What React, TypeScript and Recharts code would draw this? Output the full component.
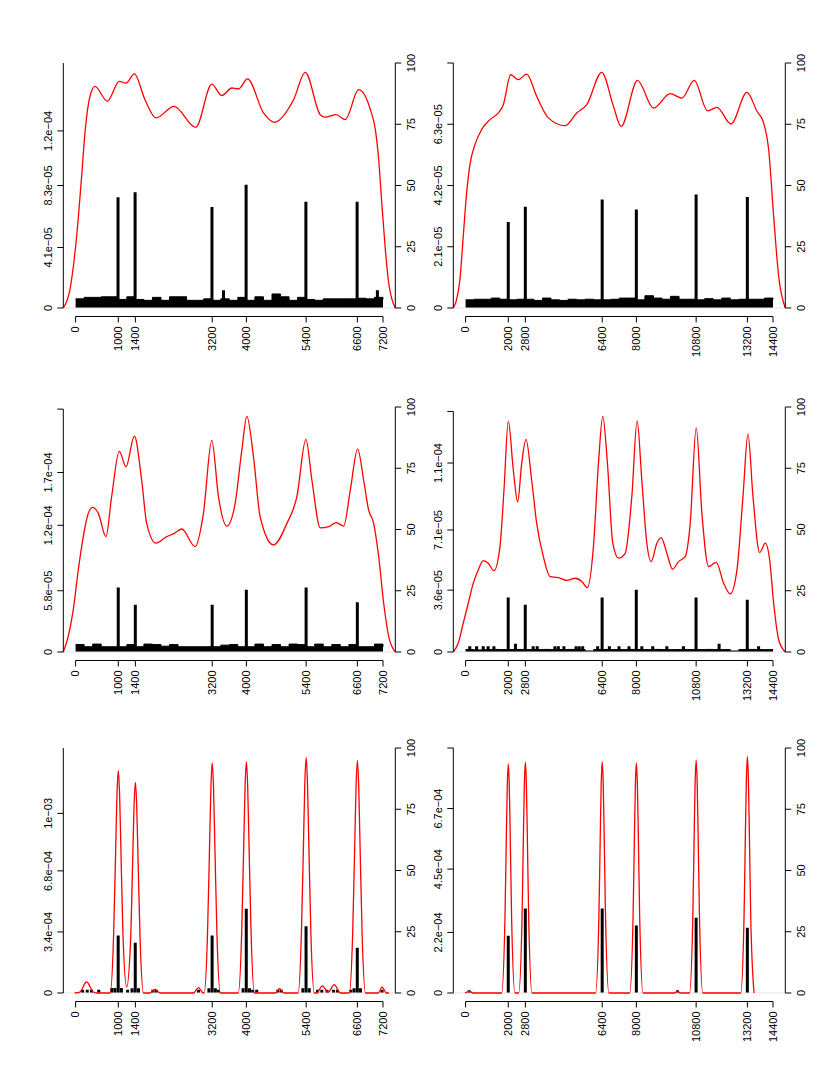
import React from 'react';
import { ComposedChart, Line, Area, Bar, XAxis, YAxis, ReferenceLine } from 'recharts';

// x tick positions of the two columns
const leftColTicks = [0, 1000, 1400, 3200, 4000, 5400, 6600, 7200];
const rightColTicks = [0, 2000, 2800, 6400, 8000, 10800, 13200, 14400];
const pctTicks = [0, 25, 50, 75, 100];

// positions of the noise floor samples
const leftNoiseX = [0, 200, 400, 600, 800, 1000, 1200, 1400, 1600, 1800, 2000, 2200, 2400, 2600, 2800, 3000, 3200, 3400, 3600, 3800, 4000, 4200, 4400, 4600, 4800, 5000, 5200, 5400, 5600, 5800, 6000, 6200, 6400, 6600, 6800, 7000, 7200];
const rightNoiseX = [0, 400, 800, 1200, 1600, 2000, 2400, 2800, 3200, 3600, 4000, 4400, 4800, 5200, 5600, 6000, 6400, 6800, 7200, 7600, 8000, 8400, 8800, 9200, 9600, 10000, 10400, 10800, 11200, 11600, 12000, 12400, 12800, 13200, 13600, 14000, 14400];

// ---- top left
const tlLeftTicks = [0, 4.1e-5, 8.3e-5, 1.2e-4];
const tlLeftLabels = ['0', '4.1e−05', '8.3e−05', '1.2e−04'];
const tlSpikes = [
  { x: 1000, h: 7.5e-5 }, { x: 1400, h: 7.85e-5 }, { x: 3200, h: 6.85e-5 }, { x: 3470, h: 1.2e-5 },
  { x: 4000, h: 8.35e-5 }, { x: 5400, h: 7.2e-5 }, { x: 6600, h: 7.2e-5 }, { x: 7075, h: 1.2e-5 },
];
const tlNoiseMicro = [6.2, 7.2, 7.2, 7.6, 7.6, 5.8, 7.6, 5.8, 5.2, 7.2, 5.2, 7.6, 7.6, 5.2, 5.2, 6.2, 5.2, 6.2, 5.2, 7.2, 5.2, 7.6, 5.2, 9.5, 7.6, 5.2, 7.2, 5.8, 5.2, 6.2, 6.2, 6.2, 6.2, 6.6, 6.2, 7.2, 5.8];
const tlCurve = [
  { x: -288, v: 0 }, { x: -133, v: 7.5 }, { x: 23, v: 29 }, { x: 141, v: 53.7 }, { x: 219, v: 71.4 },
  { x: 336, v: 86.4 }, { x: 453, v: 90.5 }, { x: 743, v: 84.4 }, { x: 1024, v: 92.5 }, { x: 1181, v: 91.8 },
  { x: 1376, v: 95.6 }, { x: 1626, v: 85 }, { x: 1884, v: 77.6 }, { x: 2306, v: 82.3 }, { x: 2814, v: 73.7 },
  { x: 3190, v: 91.4 }, { x: 3424, v: 86.7 }, { x: 3659, v: 89.8 }, { x: 3815, v: 89.4 }, { x: 4026, v: 93.5 },
  { x: 4402, v: 79.6 }, { x: 4652, v: 75.8 }, { x: 5105, v: 85 }, { x: 5379, v: 96.2 }, { x: 5731, v: 78.9 },
  { x: 5848, v: 77.9 }, { x: 6106, v: 78.9 }, { x: 6317, v: 76.9 }, { x: 6630, v: 89.1 }, { x: 6903, v: 81 },
  { x: 7021, v: 72.8 }, { x: 7099, v: 60.5 }, { x: 7177, v: 41.5 }, { x: 7255, v: 23.8 }, { x: 7333, v: 10.2 },
  { x: 7411, v: 3.4 }, { x: 7488, v: 0 },
];

// ---- top right
const trLeftTicks = [0, 2.1e-5, 4.2e-5, 6.3e-5, 8.4e-5];
const trLeftLabels = ['0', '2.1e−05', '4.2e−05', '6.3e−05', ''];
const trSpikes = [
  { x: 2000, h: 2.95e-5 }, { x: 2800, h: 3.47e-5 }, { x: 6400, h: 3.72e-5 },
  { x: 8000, h: 3.38e-5 }, { x: 10800, h: 3.89e-5 }, { x: 13200, h: 3.81e-5 },
];
const trNoiseMicro = [2.8, 3.0, 3.0, 3.4, 3.0, 2.8, 3.0, 3.0, 2.6, 3.4, 2.8, 2.6, 3.0, 2.8, 3.0, 2.8, 2.8, 3.0, 3.4, 3.4, 2.8, 4.2, 3.4, 3.0, 4.0, 3.0, 3.0, 2.8, 3.2, 2.8, 3.4, 2.8, 3.0, 3.0, 3.0, 3.4, 3.0];
const trCurve = [
  { x: -576, v: 0 }, { x: -422, v: 3.4 }, { x: -266, v: 11.6 }, { x: -109, v: 29.3 }, { x: 47, v: 46.9 },
  { x: 203, v: 58.5 }, { x: 438, v: 66.7 }, { x: 750, v: 72.8 }, { x: 1141, v: 76.9 }, { x: 1532, v: 79.6 },
  { x: 1767, v: 83 }, { x: 2111, v: 95.2 }, { x: 2470, v: 93.2 }, { x: 2861, v: 95.5 }, { x: 3330, v: 86.4 },
  { x: 3877, v: 77.6 }, { x: 4659, v: 74.4 }, { x: 5206, v: 79.6 }, { x: 5675, v: 83 }, { x: 6379, v: 96.2 },
  { x: 6926, v: 82.3 }, { x: 7286, v: 74.1 }, { x: 8052, v: 92.9 }, { x: 8802, v: 81.6 }, { x: 9584, v: 87.5 },
  { x: 10131, v: 85.7 }, { x: 10710, v: 92.9 }, { x: 11335, v: 80.5 }, { x: 11773, v: 81.9 }, { x: 12430, v: 75.1 },
  { x: 13180, v: 88 }, { x: 13649, v: 80.3 }, { x: 13962, v: 75.5 }, { x: 14197, v: 64.6 }, { x: 14431, v: 37.4 },
  { x: 14666, v: 12.9 }, { x: 14976, v: 0 },
];

// ---- middle left
const mlLeftTicks = [0, 5.8e-5, 1.2e-4, 1.7e-4, 2.3e-4];
const mlLeftLabels = ['0', '5.8e−05', '1.2e−04', '1.7e−04', ''];
const mlSpikes = [
  { x: 1000, h: 6.1e-5 }, { x: 1400, h: 4.47e-5 }, { x: 3200, h: 4.47e-5 },
  { x: 4000, h: 5.89e-5 }, { x: 5400, h: 6.1e-5 }, { x: 6600, h: 4.72e-5 },
];
const mlNoiseMicro = [7.0, 5.0, 7.5, 5.0, 5.0, 5.0, 7.0, 5.0, 7.5, 7.0, 5.5, 7.0, 5.0, 5.0, 5.0, 5.0, 5.0, 6.5, 7.0, 5.0, 5.0, 7.5, 5.0, 7.0, 5.0, 7.5, 7.0, 5.0, 7.5, 5.0, 7.0, 5.0, 7.0, 5.0, 5.0, 7.5, 5.0];
const mlCurve = [
  { x: -288, v: 0 }, { x: -172, v: 6.4 }, { x: -55, v: 17.2 }, { x: 63, v: 33.5 }, { x: 180, v: 47.1 },
  { x: 297, v: 56.6 }, { x: 399, v: 59 }, { x: 532, v: 56.6 }, { x: 711, v: 47.1 }, { x: 844, v: 63.4 },
  { x: 1024, v: 81.9 }, { x: 1181, v: 75.6 }, { x: 1376, v: 88.1 }, { x: 1548, v: 70.1 }, { x: 1665, v: 52.5 },
  { x: 1884, v: 44.4 }, { x: 2134, v: 47.1 }, { x: 2290, v: 48.2 }, { x: 2486, v: 50.2 }, { x: 2799, v: 43 },
  { x: 2994, v: 56.6 }, { x: 3190, v: 86.4 }, { x: 3346, v: 63.4 }, { x: 3542, v: 51.4 }, { x: 3737, v: 60.7 },
  { x: 3893, v: 82.4 }, { x: 4011, v: 96.2 }, { x: 4167, v: 79.6 }, { x: 4323, v: 55.2 }, { x: 4636, v: 43.7 },
  { x: 4949, v: 52.5 }, { x: 5183, v: 63.4 }, { x: 5394, v: 86.8 }, { x: 5535, v: 70.1 }, { x: 5731, v: 50.7 },
  { x: 5926, v: 51.2 }, { x: 6106, v: 52.8 }, { x: 6278, v: 51.4 }, { x: 6434, v: 66.1 }, { x: 6606, v: 82.8 },
  { x: 6747, v: 70.1 }, { x: 6864, v: 57.9 }, { x: 6981, v: 52.5 }, { x: 7099, v: 38.9 }, { x: 7216, v: 19.9 },
  { x: 7333, v: 6.4 }, { x: 7488, v: 0 },
];

// ---- middle right
const mrLeftTicks = [0, 3.6e-5, 7.1e-5, 1.1e-4, 1.4e-4];
const mrLeftLabels = ['0', '3.6e−05', '7.1e−05', '1.1e−04', ''];
const mrSpikes = [
  { x: 200, h: 3.3e-6 }, { x: 520, h: 3.3e-6 }, { x: 830, h: 3.3e-6 }, { x: 1060, h: 3.3e-6 }, { x: 1330, h: 3.3e-6 },
  { x: 2000, h: 3.17e-5 }, { x: 2340, h: 4.8e-6 }, { x: 2800, h: 2.75e-5 }, { x: 3170, h: 3.3e-6 }, { x: 3360, h: 3.3e-6 },
  { x: 4190, h: 3.3e-6 }, { x: 4350, h: 3.3e-6 }, { x: 4610, h: 3.3e-6 }, { x: 5180, h: 3.3e-6 }, { x: 5330, h: 3.3e-6 },
  { x: 5490, h: 3.3e-6 }, { x: 6190, h: 3.3e-6 }, { x: 6400, h: 3.17e-5 }, { x: 6740, h: 3.3e-6 }, { x: 7190, h: 3.3e-6 },
  { x: 7660, h: 3.3e-6 }, { x: 8000, h: 3.62e-5 }, { x: 8260, h: 3.3e-6 }, { x: 8770, h: 3.3e-6 }, { x: 9430, h: 3.3e-6 },
  { x: 10210, h: 3.3e-6 }, { x: 10800, h: 3.17e-5 }, { x: 11880, h: 4.8e-6 }, { x: 13200, h: 3.04e-5 }, { x: 13730, h: 3.3e-6 },
];
const mrNoiseMicro = [1.4, 1.2, 1.4, 1.5, 1.4, 1.4, 1.5, 1.4, 1.4, 1.5, 1.4, 1.4, 1.5, 1.4, 0.6, 1.4, 1.5, 1.4, 1.4, 1.5, 1.4, 1.4, 1.5, 1.4, 1.4, 1.5, 1.4, 1.4, 1.5, 1.4, 1.4, 0.6, 1.4, 1.5, 1.4, 1.4, 1.5];
const mrCurve = [
  { x: -576, v: 0 }, { x: -344, v: 3.7 }, { x: -109, v: 11.8 }, { x: 125, v: 19.9 }, { x: 360, v: 28.1 },
  { x: 594, v: 33.5 }, { x: 829, v: 37.3 }, { x: 1063, v: 36.2 }, { x: 1329, v: 33.2 }, { x: 1610, v: 43 },
  { x: 1798, v: 66.1 }, { x: 2001, v: 94.2 }, { x: 2236, v: 74.2 }, { x: 2439, v: 61.3 }, { x: 2627, v: 76.9 },
  { x: 2830, v: 86.8 }, { x: 3096, v: 70.1 }, { x: 3330, v: 52.5 }, { x: 3643, v: 38.9 }, { x: 3956, v: 30.8 },
  { x: 4347, v: 30.4 }, { x: 4737, v: 29.2 }, { x: 5128, v: 30.1 }, { x: 5441, v: 28.8 }, { x: 5707, v: 26.3 },
  { x: 5988, v: 43 }, { x: 6223, v: 76.9 }, { x: 6426, v: 96.2 }, { x: 6645, v: 76.9 }, { x: 6895, v: 44.4 },
  { x: 7161, v: 38.3 }, { x: 7474, v: 40.3 }, { x: 7786, v: 63.4 }, { x: 8036, v: 94.3 }, { x: 8255, v: 70.1 },
  { x: 8490, v: 44.4 }, { x: 8693, v: 36.9 }, { x: 8959, v: 44.4 }, { x: 9162, v: 46.7 }, { x: 9428, v: 40.3 },
  { x: 9694, v: 33.8 }, { x: 9975, v: 36.9 }, { x: 10288, v: 38.9 }, { x: 10522, v: 52.5 }, { x: 10803, v: 91.5 },
  { x: 11069, v: 56.6 }, { x: 11382, v: 34.9 }, { x: 11742, v: 36.6 }, { x: 12086, v: 28.1 }, { x: 12399, v: 23.7 },
  { x: 12711, v: 33.5 }, { x: 12993, v: 63.4 }, { x: 13227, v: 88.9 }, { x: 13462, v: 63.4 }, { x: 13774, v: 40.6 },
  { x: 14040, v: 44.4 }, { x: 14243, v: 37.6 }, { x: 14431, v: 19.9 }, { x: 14666, v: 5 }, { x: 14976, v: 0 },
];

// ---- bottom left
const blLeftTicks = [0, 3.4e-4, 6.8e-4, 1e-3];
const blLeftLabels = ['0', '3.4e−04', '6.8e−04', '1e−03'];
const blSpikes = [
  { x: 165, h: 1.8e-5 }, { x: 275, h: 1.8e-5 }, { x: 375, h: 1.8e-5 }, { x: 545, h: 1.8e-5 },
  { x: 850, h: 2.8e-5 }, { x: 925, h: 2.8e-5 }, { x: 1000, h: 3.2e-4 }, { x: 1075, h: 2.8e-5 },
  { x: 1220, h: 1.8e-5 }, { x: 1325, h: 2.6e-5 }, { x: 1400, h: 2.8e-4 }, { x: 1475, h: 2.6e-5 },
  { x: 1810, h: 1.8e-5 }, { x: 1890, h: 1.8e-5 }, { x: 2880, h: 1.8e-5 }, { x: 3125, h: 2.6e-5 },
  { x: 3200, h: 3.2e-4 }, { x: 3275, h: 2.6e-5 }, { x: 3350, h: 1.8e-5 }, { x: 3925, h: 2.6e-5 },
  { x: 4000, h: 4.69e-4 }, { x: 4075, h: 2.6e-5 }, { x: 4150, h: 1.8e-5 }, { x: 4245, h: 1.8e-5 },
  { x: 4740, h: 1.8e-5 }, { x: 4820, h: 1.8e-5 }, { x: 5325, h: 2.6e-5 }, { x: 5400, h: 3.72e-4 },
  { x: 5475, h: 2.6e-5 }, { x: 5670, h: 1.8e-5 }, { x: 5770, h: 1.8e-5 }, { x: 5890, h: 1.8e-5 },
  { x: 6045, h: 1.8e-5 }, { x: 6135, h: 1.8e-5 }, { x: 6450, h: 1.8e-5 }, { x: 6525, h: 2.6e-5 },
  { x: 6600, h: 2.52e-4 }, { x: 6675, h: 2.6e-5 }, { x: 7180, h: 1.8e-5 },
];
const blCurve = [
  { x: -20, v: 0 }, { x: 100, v: 0.4 }, { x: 258, v: 4.5 }, { x: 414, v: 0.4 }, { x: 500, v: 0 },
  { x: 810, v: 0 }, { x: 890, v: 23.6 }, { x: 937, v: 57.2 }, { x: 969, v: 80.8 }, { x: 1000, v: 90.8 },
  { x: 1031, v: 80.8 }, { x: 1063, v: 57.2 }, { x: 1110, v: 23.6 }, { x: 1196, v: 2.4 },
  { x: 1290, v: 22.4 }, { x: 1337, v: 54.2 }, { x: 1369, v: 76.5 }, { x: 1400, v: 86 }, { x: 1431, v: 76.5 },
  { x: 1463, v: 54.2 }, { x: 1510, v: 22.4 }, { x: 1590, v: 0 },
  { x: 1743, v: 0 }, { x: 1861, v: 1.5 }, { x: 1978, v: 0 }, { x: 2760, v: 0 }, { x: 2877, v: 2.2 }, { x: 2990, v: 0 },
  { x: 3010, v: 0 }, { x: 3090, v: 24.4 }, { x: 3137, v: 59.2 }, { x: 3169, v: 83.6 }, { x: 3200, v: 93.9 },
  { x: 3231, v: 83.6 }, { x: 3263, v: 59.2 }, { x: 3310, v: 24.4 }, { x: 3390, v: 0 },
  { x: 3810, v: 0 }, { x: 3890, v: 24.5 }, { x: 3937, v: 59.5 }, { x: 3969, v: 84 }, { x: 4000, v: 94.4 },
  { x: 4031, v: 84 }, { x: 4063, v: 59.5 }, { x: 4110, v: 24.5 }, { x: 4190, v: 0 },
  { x: 4675, v: 0 }, { x: 4777, v: 1.8 }, { x: 4880, v: 0 },
  { x: 5210, v: 0 }, { x: 5290, v: 25 }, { x: 5337, v: 60.6 }, { x: 5369, v: 85.6 }, { x: 5400, v: 96.2 },
  { x: 5431, v: 85.6 }, { x: 5463, v: 60.6 }, { x: 5510, v: 25 }, { x: 5590, v: 0 },
  { x: 5650, v: 0 }, { x: 5778, v: 2.9 }, { x: 5920, v: 0.4 }, { x: 6059, v: 3.4 }, { x: 6200, v: 0 },
  { x: 6410, v: 0 }, { x: 6490, v: 24.6 }, { x: 6537, v: 59.7 }, { x: 6569, v: 84.4 }, { x: 6600, v: 94.8 },
  { x: 6631, v: 84.4 }, { x: 6663, v: 59.7 }, { x: 6710, v: 24.6 }, { x: 6790, v: 0 },
  { x: 7090, v: 0 }, { x: 7177, v: 2.4 }, { x: 7280, v: 0 }, { x: 7340, v: 0 },
];

// ---- bottom right
const brLeftTicks = [0, 2.2e-4, 4.5e-4, 6.7e-4, 8.9e-4];
const brLeftLabels = ['0', '2.2e−04', '4.5e−04', '6.7e−04', ''];
const brSpikes = [
  { x: 172, h: 1e-5 }, { x: 2000, h: 2.08e-4 }, { x: 2800, h: 3.07e-4 }, { x: 6400, h: 3.07e-4 },
  { x: 8000, h: 2.45e-4 }, { x: 9928, h: 1e-5 }, { x: 10800, h: 2.73e-4 }, { x: 13200, h: 2.37e-4 },
];
const brCurve = [
  { x: -30, v: 0 }, { x: 172, v: 0.7 }, { x: 360, v: 0 },
  { x: 1687, v: 0 }, { x: 1844, v: 30.4 }, { x: 1906, v: 62.6 }, { x: 1953, v: 84.6 }, { x: 2000, v: 93.5 },
  { x: 2047, v: 84.6 }, { x: 2094, v: 62.6 }, { x: 2156, v: 30.4 }, { x: 2313, v: 0 },
  { x: 2487, v: 0 }, { x: 2644, v: 30.6 }, { x: 2706, v: 63.1 }, { x: 2753, v: 85.3 }, { x: 2800, v: 94.2 },
  { x: 2847, v: 85.3 }, { x: 2894, v: 63.1 }, { x: 2956, v: 30.6 }, { x: 3113, v: 0 },
  { x: 6087, v: 0 }, { x: 6244, v: 30.7 }, { x: 6306, v: 63.2 }, { x: 6353, v: 85.4 }, { x: 6400, v: 94.4 },
  { x: 6447, v: 85.4 }, { x: 6494, v: 63.2 }, { x: 6556, v: 30.7 }, { x: 6713, v: 0 },
  { x: 7687, v: 0 }, { x: 7844, v: 30.5 }, { x: 7906, v: 62.9 }, { x: 7953, v: 85 }, { x: 8000, v: 93.9 },
  { x: 8047, v: 85 }, { x: 8094, v: 62.9 }, { x: 8156, v: 30.5 }, { x: 8313, v: 0 },
  { x: 9800, v: 0 }, { x: 9928, v: 1 }, { x: 10050, v: 0 },
  { x: 10487, v: 0 }, { x: 10644, v: 30.9 }, { x: 10706, v: 63.7 }, { x: 10753, v: 86 }, { x: 10800, v: 95 },
  { x: 10847, v: 86 }, { x: 10894, v: 63.7 }, { x: 10956, v: 30.9 }, { x: 11113, v: 0 },
  { x: 12887, v: 0 }, { x: 13044, v: 31.4 }, { x: 13106, v: 64.7 }, { x: 13153, v: 87.3 }, { x: 13200, v: 96.5 },
  { x: 13247, v: 87.3 }, { x: 13294, v: 64.7 }, { x: 13356, v: 31.4 }, { x: 13513, v: 0 },
];

const FONT = '"Liberation Sans", Arial, Helvetica, sans-serif';
const PLOT_W = 332;
const SPAN = 245; // px from 0 to top of plot
const PAD = 8.5; // px between 0 and x axis line
const TOP_M = 20;
const XAX_H = 50;
const LEFT_W = 63.3;
const RIGHT_W = 34;

type Pt = { x: number; v: number };
type Spike = { x: number; h: number };
type PanelCfg = {
  xTicks: number[];
  leftMax: number;
  leftTop: number;
  leftTicks: number[];
  leftLabels: string[];
  spikes: Spike[];
  noiseX?: number[];
  noiseMicro?: number[];
  curve: Pt[];
};

const rotLabel = (x: number, y: number, text: string, anchor: 'start' | 'middle' | 'end') => (
  <text
    x={x}
    y={y}
    transform={`rotate(-90 ${x} ${y})`}
    textAnchor={anchor}
    dy="0.35em"
    fontSize={11}
    fontFamily={FONT}
    fill="#000"
  >
    {text}
  </text>
);

const Panel = ({ cfg, left, plotTop }: { cfg: PanelCfg; left: number; plotTop: number }) => {
  const xMax = cfg.xTicks[cfg.xTicks.length - 1];
  const xDom = [-0.04 * xMax, 1.04 * xMax];
  const lDom = [-(cfg.leftMax * PAD) / SPAN, cfg.leftMax];
  const rDom = [-(100 * PAD) / SPAN, 100];
  const noise = cfg.noiseX && cfg.noiseMicro
    ? cfg.noiseX.map((x, i) => ({ x, h: cfg.noiseMicro![i] * 1e-6 }))
    : null;

  return (
    <div style={{ position: 'absolute', left, top: plotTop - TOP_M }}>
      <ComposedChart
        width={LEFT_W + PLOT_W + RIGHT_W}
        height={TOP_M + SPAN + PAD + XAX_H}
        data={cfg.spikes}
        margin={{ top: TOP_M, right: 0, bottom: 0, left: 0 }}
      >
        <XAxis
          xAxisId="x"
          dataKey="x"
          type="number"
          domain={xDom}
          allowDataOverflow
          ticks={cfg.xTicks}
          interval={0}
          axisLine={false}
          tickLine={{ stroke: '#000' }}
          tickSize={6}
          tickMargin={4}
          height={XAX_H}
          tick={(p: any) => rotLabel(p.x, p.y, String(p.payload.value), 'end')}
        />
        <XAxis xAxisId="zb" dataKey="x" type="number" domain={xDom} allowDataOverflow hide height={0} />
        <YAxis
          yAxisId="l"
          type="number"
          domain={lDom}
          allowDataOverflow
          ticks={cfg.leftTicks}
          interval={0}
          axisLine={false}
          tickLine={{ stroke: '#000' }}
          tickSize={6}
          tickMargin={9}
          width={LEFT_W}
          tick={(p: any) => rotLabel(p.x, p.y, cfg.leftLabels[cfg.leftTicks.indexOf(p.payload.value)] ?? '', 'middle')}
        />
        <YAxis
          yAxisId="r"
          orientation="right"
          type="number"
          domain={rDom}
          allowDataOverflow
          ticks={pctTicks}
          interval={0}
          axisLine={false}
          tickLine={{ stroke: '#000' }}
          tickSize={6}
          tickMargin={10}
          width={RIGHT_W}
          tick={(p: any) => rotLabel(p.x, p.y, String(p.payload.value), 'middle')}
        />
        <ReferenceLine xAxisId="x" yAxisId="l" y={0} stroke="#e3e3e3" strokeWidth={1} ifOverflow="visible" />
        {noise && (
          <Area
            xAxisId="x"
            yAxisId="l"
            data={noise}
            dataKey="h"
            type="stepAfter"
            stroke="#000"
            strokeWidth={1}
            fill="#000"
            fillOpacity={1}
            baseValue={0}
            dot={false}
            activeDot={false}
            isAnimationActive={false}
          />
        )}
        <Bar xAxisId="zb" yAxisId="l" dataKey="h" fill="#000" barSize={3} isAnimationActive={false} />
        <Line
          xAxisId="x"
          yAxisId="r"
          data={cfg.curve}
          dataKey="v"
          type="monotone"
          stroke="#ff0000"
          strokeWidth={1.3}
          dot={false}
          activeDot={false}
          isAnimationActive={false}
        />
        <ReferenceLine
          xAxisId="x"
          yAxisId="l"
          segment={[{ x: xDom[0], y: 0 }, { x: xDom[0], y: cfg.leftTop }]}
          stroke="#000"
          ifOverflow="visible"
        />
        <ReferenceLine
          xAxisId="x"
          yAxisId="r"
          segment={[{ x: xDom[1], y: 0 }, { x: xDom[1], y: 100 }]}
          stroke="#000"
          ifOverflow="visible"
        />
        <ReferenceLine
          xAxisId="x"
          yAxisId="l"
          segment={[{ x: 0, y: lDom[0] }, { x: xMax, y: lDom[0] }]}
          stroke="#000"
          ifOverflow="visible"
        />
      </ComposedChart>
    </div>
  );
};

const rowTops = [63.3, 406.5, 747.5];
const colLefts = [0, 390];

const panels: { cfg: PanelCfg; col: number; row: number }[] = [
  { col: 0, row: 0, cfg: { xTicks: leftColTicks, leftMax: 1.66e-4, leftTop: 1.66e-4, leftTicks: tlLeftTicks, leftLabels: tlLeftLabels, spikes: tlSpikes, noiseX: leftNoiseX, noiseMicro: tlNoiseMicro, curve: tlCurve } },
  { col: 1, row: 0, cfg: { xTicks: rightColTicks, leftMax: 8.4e-5, leftTop: 8.4e-5, leftTicks: trLeftTicks, leftLabels: trLeftLabels, spikes: trSpikes, noiseX: rightNoiseX, noiseMicro: trNoiseMicro, curve: trCurve } },
  { col: 0, row: 1, cfg: { xTicks: leftColTicks, leftMax: 2.32e-4, leftTop: 2.3e-4, leftTicks: mlLeftTicks, leftLabels: mlLeftLabels, spikes: mlSpikes, noiseX: leftNoiseX, noiseMicro: mlNoiseMicro, curve: mlCurve } },
  { col: 1, row: 1, cfg: { xTicks: rightColTicks, leftMax: 1.426e-4, leftTop: 1.4e-4, leftTicks: mrLeftTicks, leftLabels: mrLeftLabels, spikes: mrSpikes, noiseX: rightNoiseX, noiseMicro: mrNoiseMicro, curve: mrCurve } },
  { col: 0, row: 2, cfg: { xTicks: leftColTicks, leftMax: 1.364e-3, leftTop: 1.364e-3, leftTicks: blLeftTicks, leftLabels: blLeftLabels, spikes: blSpikes, curve: blCurve } },
  { col: 1, row: 2, cfg: { xTicks: rightColTicks, leftMax: 8.9e-4, leftTop: 8.9e-4, leftTicks: brLeftTicks, leftLabels: brLeftLabels, spikes: brSpikes, curve: brCurve } },
];

const App: React.FC = () => (
  <div style={{ position: 'absolute', left: 0, top: 0, width: 830, height: 1075, background: '#fff' }}>
    {panels.map((p, i) => (
      <Panel key={i} cfg={p.cfg} left={colLefts[p.col]} plotTop={rowTops[p.row]} />
    ))}
  </div>
);

export default App;
